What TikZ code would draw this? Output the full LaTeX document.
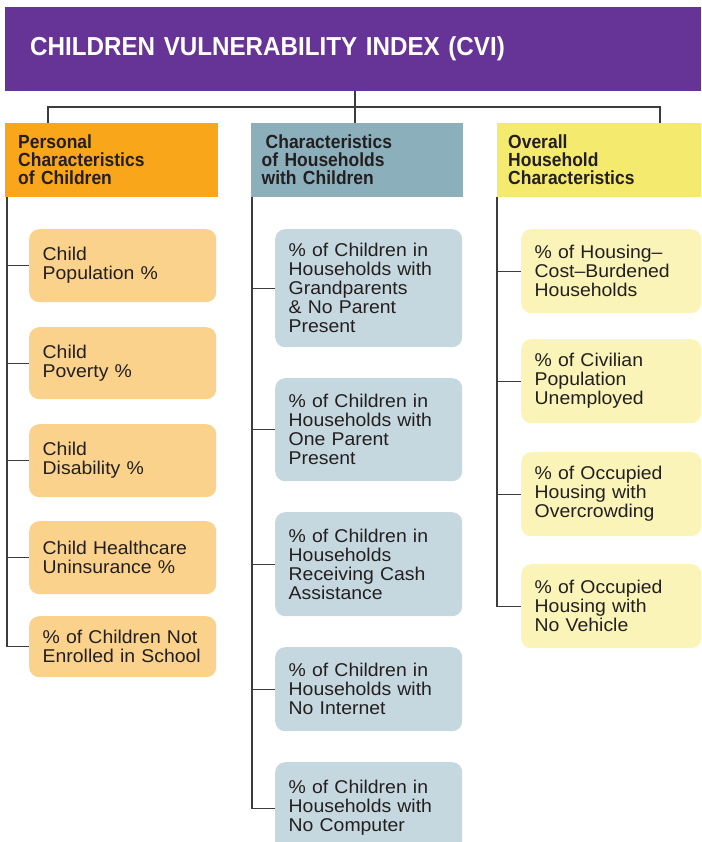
\documentclass[tikz,border=0pt]{standalone}
\usepackage{fontspec}
\setmainfont{Liberation Sans}
\newfontfamily\bodyfont[FakeStretch=1.05]{Liberation Sans}
\newfontfamily\hdfont[FakeStretch=0.92]{Liberation Sans}
\newfontfamily\ttlfont[FakeStretch=0.93]{Liberation Sans}
\definecolor{purplec}{RGB}{102,51,150}
\definecolor{orangeH}{RGB}{249,166,27}
\definecolor{blueH}{RGB}{140,175,188}
\definecolor{yellowH}{RGB}{244,234,110}
\definecolor{orangeB}{RGB}{250,210,140}
\definecolor{blueB}{RGB}{198,216,223}
\definecolor{yellowB}{RGB}{250,244,184}
\definecolor{textc}{RGB}{35,31,32}
\definecolor{linec}{RGB}{60,60,60}
\begin{document}
\begin{tikzpicture}[x=1pt,y=-1pt,
  conn/.style={draw=linec,line width=1.3pt},
  hdr/.style={rectangle,anchor=north west,minimum height=74pt,align=left,
    inner ysep=0pt,text=textc,font=\hdfont\bfseries\fontsize{19}{18}\selectfont},
  itembox/.style={rectangle,rounded corners=10pt,anchor=north west,minimum width=187pt,
    text width=160pt,inner xsep=13.5pt,inner ysep=0pt,align=left,text=textc,
    font=\bodyfont\fontsize{18.5}{19}\selectfont},
  itemA/.style={itembox,fill=orangeB},
  itemB/.style={itembox,fill=blueB},
  itemC/.style={itembox,fill=yellowB,minimum width=180pt,text width=153pt}]
\useasboundingbox (0,0) rectangle (701,842);
\clip (0,0) rectangle (701,842);
% title
\node[rectangle,anchor=north west,fill=purplec,minimum width=696pt,minimum height=84pt,
  text width=696pt,inner xsep=0pt,inner ysep=0pt,align=left,text=white,
  font=\ttlfont\bfseries\fontsize{26}{28}\selectfont] (title) at (5,7)
  {\hspace*{25pt}CHILDREN VULNERABILITY INDEX (CVI)};
% headers
\node[hdr,fill=orangeH,minimum width=213pt,text width=187pt,inner xsep=13pt] (hA) at (5,123)
  {Personal\\Characteristics\\of Children};
\node[hdr,fill=blueH,minimum width=212pt,text width=191pt,inner xsep=10.5pt] (hB) at (251,123)
  {\hspace*{4pt}Characteristics\\of Households\\with Children};
\node[hdr,fill=yellowH,minimum width=204pt,text width=182pt,inner xsep=11pt] (hC) at (497,123)
  {Overall\\Household\\Characteristics};
% left column
\node[itemA,minimum height=73pt] (A1) at (29,229) {Child\\Population \%};
\node[itemA,minimum height=72pt] (A2) at (29,327) {Child\\Poverty \%};
\node[itemA,minimum height=73pt] (A3) at (29,424) {Child\\Disability \%};
\node[itemA,minimum height=73pt] (A4) at (29,521) {Child Healthcare\\Uninsurance \%};
\node[itemA,minimum height=61pt] (A5) at (29,616) {\% of Children Not\\Enrolled in School};
% middle column
\node[itemB,minimum height=118pt] (B1) at (275,229)
  {\% of Children in\\Households with\\Grandparents\\\& No Parent\\Present};
\node[itemB,minimum height=103pt] (B2) at (275,378)
  {\% of Children in\\Households with\\One Parent\\Present};
\node[itemB,minimum height=104pt] (B3) at (275,512)
  {\% of Children in\\Households\\Receiving Cash\\Assistance};
\node[itemB,minimum height=84pt] (B4) at (275,647)
  {\% of Children in\\Households with\\No Internet};
\node[itemB,minimum height=92pt] (B5) at (275,762)
  {\% of Children in\\Households with\\No Computer};
% right column
\node[itemC,minimum height=84pt] (C1) at (521,229)
  {\% of Housing–\\Cost–Burdened\\Households};
\node[itemC,minimum height=84pt] (C2) at (521,339)
  {\% of Civilian\\Population\\Unemployed};
\node[itemC,minimum height=84pt] (C3) at (521,452)
  {\% of Occupied\\Housing with\\Overcrowding};
\node[itemC,minimum height=84pt] (C4) at (521,564)
  {\% of Occupied\\Housing with\\No Vehicle};
% top connectors
\coordinate (hub) at (355,107);
\coordinate (lA) at (48,107);
\coordinate (lC) at (660,107);
\draw[conn] (title.south -| hub) -- (hB.north -| hub);
\draw[conn] (hA.north -| lA) -- (lA) -- (lC) -- (hC.north -| lC);
% trunks
\coordinate (tA) at (7,0);
\coordinate (tB) at (252,0);
\coordinate (tC) at (497,0);
\draw[conn] (hA.south -| tA) |- (A5.west);
\foreach \n in {A1,A2,A3,A4} \draw[conn] (\n.west -| tA) -- (\n.west);
\draw[conn] (hB.south -| tB) |- (B5.west);
\foreach \n in {B1,B2,B3,B4} \draw[conn] (\n.west -| tB) -- (\n.west);
\draw[conn] (hC.south -| tC) |- (C4.west);
\foreach \n in {C1,C2,C3} \draw[conn] (\n.west -| tC) -- (\n.west);
\end{tikzpicture}
\end{document}
